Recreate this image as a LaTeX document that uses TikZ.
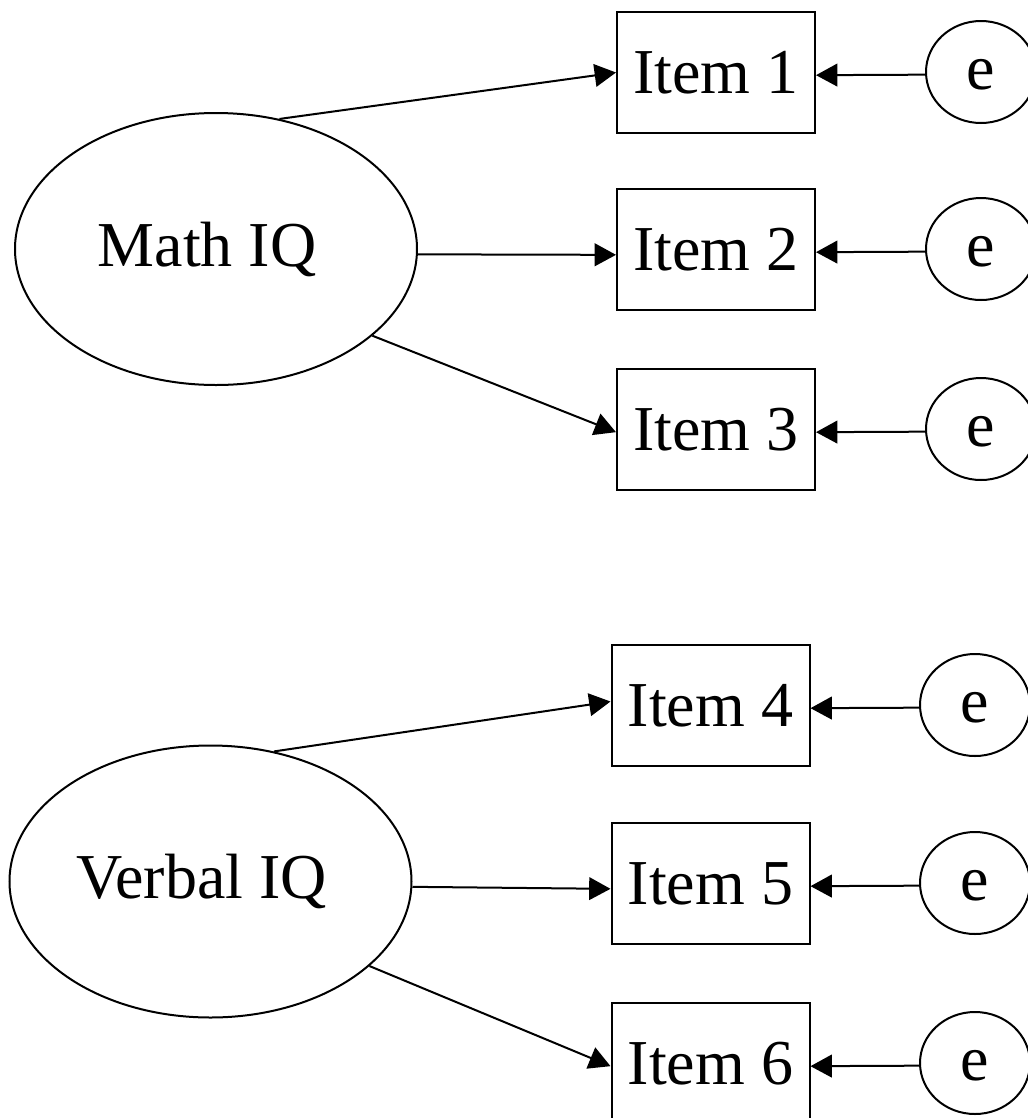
\documentclass[tikz,border=0pt]{standalone}
\usepackage{fontspec}
\setmainfont{Liberation Serif}
\usetikzlibrary{shapes.geometric,arrows.meta}
\begin{document}
\begin{tikzpicture}[x=0.75pt,y=-0.75pt,
  every node/.style={font=\fontsize{48}{56}\selectfont, line width=1.5pt, draw, inner sep=0pt},
  latent/.style={ellipse, minimum width=301.5pt, minimum height=204pt},
  itembox/.style={rectangle, minimum width=148.5pt, minimum height=90.75pt},
  errnode/.style={ellipse, minimum width=82.5pt, minimum height=76.5pt, text height=26pt, text depth=0pt},
  loading/.style={line width=1.5pt, -{Triangle[length=16pt,width=17pt]}}
]
\useasboundingbox (0,0) rectangle (1028,1118);
\clip (0,0) rectangle (1028,1118);

% first factor
\node[latent] (math) at (216,249) {Math IQ\rule{13.5pt}{0pt}};
\node[itembox] (i1) at (716,72.5) {Item 1};
\node[itembox] (i2) at (716,249.5) {Item 2};
\node[itembox] (i3) at (716,429.5) {Item 3};
\node[errnode] (e1) at (981,72) {e};
\node[errnode] (e2) at (981,249) {e};
\node[errnode] (e3) at (981,429) {e};

% second factor
\node[latent] (verbal) at (210.5,881.5) {Verbal IQ\rule{13.5pt}{0pt}};
\node[itembox] (i4) at (710.5,705.5) {Item 4};
\node[itembox] (i5) at (710.5,883.5) {Item 5};
\node[itembox] (i6) at (710.5,1063.5) {Item 6};
\node[errnode] (e4) at (975,705) {e};
\node[errnode] (e5) at (975,883) {e};
\node[errnode] (e6) at (975,1063) {e};

% loadings
\draw[loading] (math.64) -- (i1.west);
\draw[loading] ([yshift=-4pt]math.east) -- ([yshift=-4pt]i2.west);
\draw[loading] (math.-29) -- ([yshift=-2pt]i3.west);
\draw[loading] (verbal.64) -- ([yshift=3pt]i4.west);
\draw[loading] ([yshift=-4pt]verbal.east) -- ([yshift=-4pt]i5.west);
\draw[loading] (verbal.-28) -- ([yshift=-2pt]i6.west);

% error terms
\foreach \k in {1,...,6}{
  \draw[loading] ([yshift=-2pt]e\k.west) -- ([yshift=-2pt]i\k.east);
}
\end{tikzpicture}
\end{document}
